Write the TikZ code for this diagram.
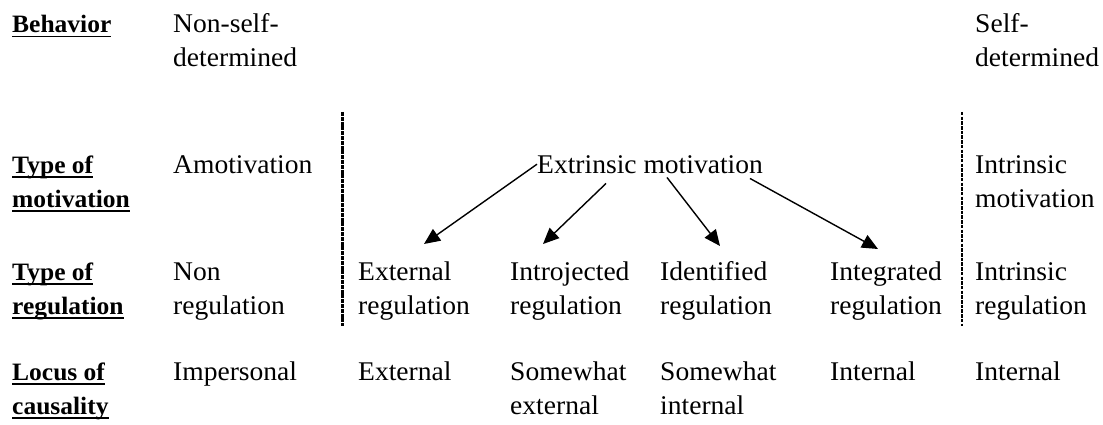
\documentclass[tikz,border=0pt]{standalone}
\usepackage{fontspec}
\setmainfont{Liberation Serif}[FakeStretch=1.02]
\usetikzlibrary{arrows.meta,calc}
\newcommand\tcell[1]{\begin{tabular}[t]{@{}l@{}}#1\end{tabular}}
\newcommand\hdrline[1]{\setbox0=\hbox{#1}\rlap{\rule[-4.5pt]{\wd0}{1.8pt}}\box0}
\begin{document}
\begin{tikzpicture}[x=1pt,y=-1pt,
  txt/.style={inner sep=0pt,anchor=base west,font=\fontsize{27}{34}\selectfont},
  hdr/.style={inner sep=0pt,anchor=base west,font=\fontsize{25}{34}\selectfont\bfseries},
  arr/.style={line width=1.4pt,-{Triangle[length=16pt,width=14pt]}},
  sepA/.style={line width=3pt,dash pattern=on 4pt off 0.8pt},
  sepB/.style={line width=1.3pt,dash pattern=on 3.5pt off 1.2pt}]
\useasboundingbox (0,0) rectangle (1103,425);
% headers
\node[hdr] (h1) at (12,33) {\tcell{\hdrline{Behavior}}};
\node[hdr] (h2) at (12,173) {\tcell{\hdrline{Type of}\\\hdrline{motivation}}};
\node[hdr] (h3) at (12,280) {\tcell{\hdrline{Type of}\\\hdrline{regulation}}};
\node[hdr] (h4) at (12,380) {\tcell{\hdrline{Locus of}\\\hdrline{causality}}};
% row 1
\node[txt] (b1) at (173,33) {\tcell{Non-self-\\determined}};
\node[txt] (b2) at (975,33) {\tcell{Self-\\determined}};
% row 2
\node[txt] (m1) at (173,173) {\tcell{Amotivation}};
\node[txt] (ext) at (537,173) {Extrinsic motivation};
\node[txt] (m3) at (975,173) {\tcell{Intrinsic\\motivation}};
% row 3
\node[txt] (r1) at (173,280) {\tcell{Non\\regulation}};
\node[txt] (r2) at (358,280) {\tcell{External\\regulation}};
\node[txt] (r3) at (510,280) {\tcell{Introjected\\regulation}};
\node[txt] (r4) at (660,280) {\tcell{Identified\\regulation}};
\node[txt] (r5) at (830,280) {\tcell{Integrated\\regulation}};
\node[txt] (r6) at (975,280) {\tcell{Intrinsic\\regulation}};
% row 4
\node[txt] (l1) at (173,380) {\tcell{Impersonal}};
\node[txt] (l2) at (358,380) {\tcell{External}};
\node[txt] (l3) at (510,380) {\tcell{Somewhat\\external}};
\node[txt] (l4) at (660,380) {\tcell{Somewhat\\internal}};
\node[txt] (l5) at (830,380) {\tcell{Internal}};
\node[txt] (l6) at (975,380) {\tcell{Internal}};
% separators
\draw[sepA] (342,112) -- (342,326);
\draw[sepB] (962,112) -- (962,326);
% arrow ends
\coordinate (t1) at ($(r2.north west)+(66,-12)$);
\coordinate (t2) at ($(r3.north west)+(33,-12)$);
\coordinate (t3) at ($(r4.north west)+(60,-10)$);
\coordinate (t4) at ($(r5.north west)+(48,-7)$);
\coordinate (s2) at ($(ext.south west)+(69,10)$);
\coordinate (s3) at ($(ext.south west)+(130,4)$);
\coordinate (s4) at ($(ext.south west)+(213,5)$);
\draw[arr] (ext.west) -- (t1);
\draw[arr] (s2) -- (t2);
\draw[arr] (s3) -- (t3);
\draw[arr] (s4) -- (t4);
\end{tikzpicture}
\end{document}
